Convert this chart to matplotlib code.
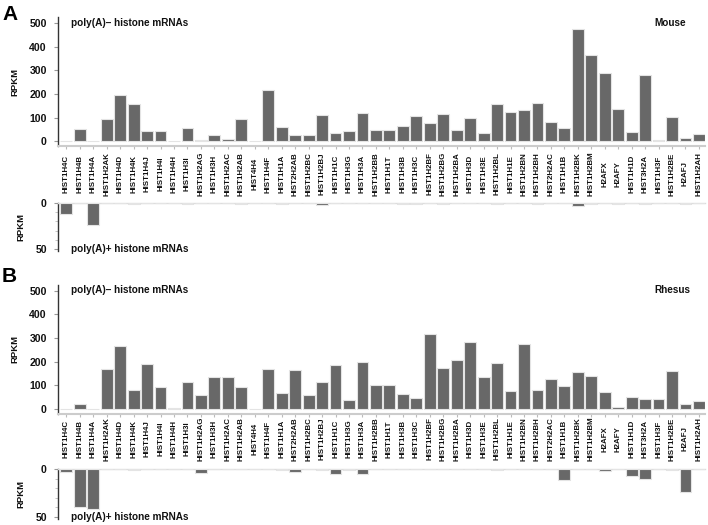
import matplotlib
matplotlib.use("Agg")
import matplotlib.pyplot as plt
import matplotlib.transforms as mtransforms
import numpy as np

plt.rcParams['font.family'] = ['Liberation Sans', 'DejaVu Sans']
plt.rcParams['font.weight'] = 'bold'

genes = ["HIST1H4C", "HIST1H4B", "HIST1H4A", "HIST1H2AK", "HIST1H4D", "HIST1H4K",
         "HIST1H4J", "HIST1H4I", "HIST1H4H", "HIST1H3I", "HIST1H2AG", "HIST1H3H",
         "HIST1H2AC", "HIST1H2AB", "HIST4H4", "HIST1H4F", "HIST1H1A", "HIST2H2AB",
         "HIST1H2BC", "HIST1H2BJ", "HIST1H1C", "HIST1H3G", "HIST1H3A", "HIST1H2BB",
         "HIST1H1T", "HIST1H3B", "HIST1H3C", "HIST1H2BF", "HIST1H2BG", "HIST1H2BA",
         "HIST1H3D", "HIST1H3E", "HIST1H2BL", "HIST1H1E", "HIST1H2BN", "HIST1H2BH",
         "HIST2H2AC", "HIST1H1B", "HIST1H2BK", "HIST1H2BM", "H2AFX", "H2AFY",
         "HIST1H1D", "HIST3H2A", "HIST1H3F", "HIST1H2BE", "H2AFJ", "HIST1H2AH"]

mouse_polyA_minus = [0, 52, 1, 94, 197, 156, 45, 45, 2, 55, 7, 25,
                     10, 94, 1, 215, 61, 27, 27, 111, 35, 44, 121, 48,
                     48, 66, 106, 79, 115, 48, 99, 35, 156, 123, 132, 161,
                     83, 55, 476, 365, 287, 137, 41, 280, 7, 104, 14, 30]

mouse_polyA_plus = [12, 0, 24, 0.5, 0.5, 1.5, 0.5, 0.5, 0, 1, 0, 0.5,
                    0, 1, 0, 0.5, 1.5, 0, 0, 2, 0.5, 0.5, 0.5, 0.5,
                    0.3, 1, 1, 0.5, 1, 0.5, 0.5, 0.5, 1, 0.5, 0.5, 1,
                    0.5, 0.3, 3, 1, 0.5, 1, 0.3, 1, 0.3, 0.5, 1, 0.5]

rhesus_polyA_minus = [0, 19, 1, 169, 267, 81, 189, 93, 4, 115, 58, 137,
                      136, 92, 1, 168, 68, 164, 57, 112, 186, 36, 200, 100,
                      101, 64, 47, 318, 171, 206, 281, 137, 194, 75, 275, 79,
                      128, 96, 157, 140, 71, 7, 49, 43, 44, 162, 19, 33]

rhesus_polyA_plus = [2.8, 39, 42, 0.5, 0.3, 1, 0.3, 0.5, 0.3, 0.3, 4.3, 0.5,
                     0.3, 0.5, 0, 0.3, 1, 3.3, 0.5, 1, 5, 1.3, 5.5, 0.3,
                     0.5, 0.5, 0.5, 0.5, 0.5, 0.5, 0.3, 0.3, 1.5, 0.5, 0.3, 0.5,
                     0.3, 11, 0.3, 0.3, 1.7, 0.3, 7, 10, 0.3, 1, 24, 0.5]

species = ["Mouse", "Rhesus"]
panel_letters = ["A", "B"]

W, H = 708, 525
fig = plt.figure(figsize=(W / 100, H / 100), dpi=100)

BAR = '#686868'
EDGE = '#e4e4e4'
TXT = '#111111'
x = np.arange(len(genes))
XL = (-0.62, 47.45)
X0, X1 = 58, 705


def px_axes(left, top, right, bottom):
    return fig.add_axes([left / W, 1 - bottom / H, (right - left) / W, (bottom - top) / H])


def style_upper(ax):
    ax.set_xlim(*XL)
    ax.set_ylim(-20, 525)
    ax.set_yticks([0, 100, 200, 300, 400, 500])
    ax.tick_params(axis='y', labelsize=7.6, length=3, color='#999999', pad=5, labelcolor=TXT)
    ax.set_xticks(x)
    ax.set_xticklabels([])
    ax.tick_params(axis='x', length=2, color='#bbbbbb', direction='out')
    for s in ['top', 'right']:
        ax.spines[s].set_visible(False)
    ax.spines['left'].set_color('#333333')
    ax.spines['left'].set_linewidth(1.0)
    ax.spines['bottom'].set_color('#cccccc')
    ax.spines['bottom'].set_linewidth(1.5)
    ax.set_ylabel('RPKM', fontsize=6.8, fontweight='bold', color=TXT, labelpad=7)


def style_lower(ax):
    ax.set_xlim(*XL)
    ax.set_ylim(52, 0)
    ax.set_yticks([0, 50])
    ax.set_yticks([10, 20, 30, 40], minor=True)
    ax.tick_params(axis='y', which='major', labelsize=7.6, length=3, color='#999999', pad=5, labelcolor=TXT)
    ax.tick_params(axis='y', which='minor', length=2, color='#bbbbbb')
    ax.set_xticks([])
    for s in ['bottom', 'right']:
        ax.spines[s].set_visible(False)
    ax.spines['top'].set_color('#dddddd')
    ax.spines['top'].set_linewidth(1.0)
    ax.spines['left'].set_color('#333333')
    ax.spines['left'].set_linewidth(1.0)
    ax.set_ylabel('RPKM', fontsize=6.8, fontweight='bold', color=TXT, labelpad=7)


panels = [
    dict(minus=mouse_polyA_minus, plus=mouse_polyA_plus, up=(17, 146), low=(203, 251),
         lab_y=174, letter_y=14),
    dict(minus=rhesus_polyA_minus, plus=rhesus_polyA_plus, up=(284.6, 413.7), low=(469, 519),
         lab_y=439, letter_y=276),
]

for i, p in enumerate(panels):
    axu = px_axes(X0, p['up'][0], X1, p['up'][1])
    axu.bar(x, p['minus'], width=0.88, color=BAR, edgecolor=EDGE, linewidth=0.8, zorder=3)
    style_upper(axu)
    axu.text(0.02, 0.955, 'poly(A)\u2013 histone mRNAs', transform=axu.transAxes,
             fontsize=7.2, fontweight='bold', color=TXT, va='center', ha='left')
    axu.text(0.922, 0.955, species[i], transform=axu.transAxes,
             fontsize=7.2, fontweight='bold', color=TXT, va='center', ha='left')

    axl = px_axes(X0, p['low'][0], X1, p['low'][1])
    axl.bar(x, p['plus'], width=0.88, color=BAR, edgecolor=EDGE, linewidth=0.8, zorder=3)
    style_lower(axl)
    axl.text(0.02, 50, 'poly(A)+ histone mRNAs',
             transform=mtransforms.blended_transform_factory(axl.transAxes, axl.transData),
             fontsize=7.2, fontweight='bold', color=TXT, va='center', ha='left')

    trans = mtransforms.blended_transform_factory(axu.transData, fig.transFigure)
    for xi, g in zip(x, genes):
        fig.text(xi, 1 - p['lab_y'] / H, g, transform=trans, rotation=90,
                 fontsize=5.7, fontweight='bold', color=TXT, ha='center', va='center')

    fig.text(2 / W, 1 - p['letter_y'] / H, panel_letters[i], fontsize=15,
             fontweight='bold', color='black', ha='left', va='center')

fig.savefig('out.png', dpi=100)
